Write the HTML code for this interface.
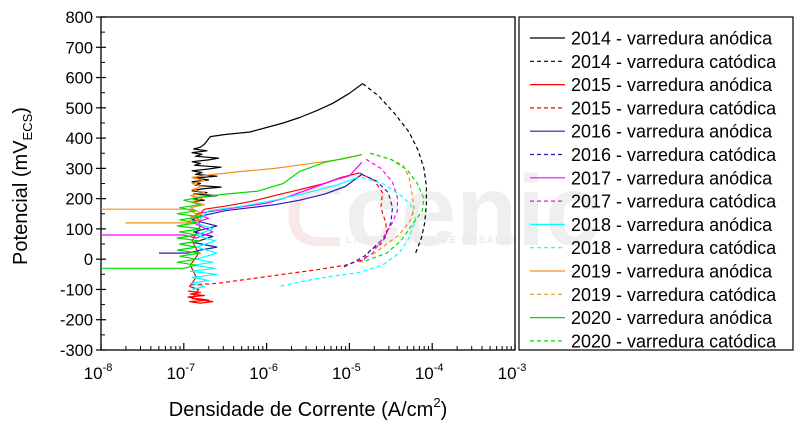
<!DOCTYPE html>
<html><head><meta charset="utf-8"><style>
body{margin:0;background:#fff;}
svg{display:block;font-family:"Liberation Sans",Arial,sans-serif;}
</style></head><body>
<svg id="chart" width="800" height="422" viewBox="0 0 800 422" xmlns="http://www.w3.org/2000/svg">
<g id="wm" opacity="0.09">
<text x="285" y="245" font-size="80" font-weight="bold" fill="#c00">ᑕ</text>
<text x="345" y="245" font-size="100" font-weight="bold" fill="#555">cenic</text>
<text x="346" y="243" font-size="10" font-weight="bold" fill="#333" letter-spacing="1.5">LABORATÓRIO DE ENSAIOS</text>
</g>
<g id="axes"></g>
<g id="series"></g>
<g id="legend"></g>
</svg>
<script>
const xDecades = [-8,-7,-6,-5,-4,-3];
const yTicks = [-300,-200,-100,0,100,200,300,400,500,600,700,800];
const seriesNames = ["2014 - varredura anódica","2014 - varredura catódica","2015 - varredura anódica","2015 - varredura catódica","2016 - varredura anódica","2016 - varredura catódica","2017 - varredura anódica","2017 - varredura catódica","2018 - varredura anódica","2018 - varredura catódica","2019 - varredura anódica","2019 - varredura catódica","2020 - varredura anódica","2020 - varredura catódica"];
const seriesColors = ["#000","#000","#f00","#f00","#1f1fb4","#1f1fb4","#f0f","#f0f","#0ff","#0ff","#f39020","#f39020","#0d0","#0d0"];
// data points [log10(i), E mV]
const a2014 = [[-6.9,190],[-6.75,195],[-6.9,200],[-6.8,205],[-6.6,210],[-6.88,215],[-6.72,220],[-6.9,226],[-6.78,232],[-6.55,238],[-6.86,244],[-6.8,250],[-6.9,256],[-6.7,262],[-6.88,268],[-6.6,274],[-6.86,280],[-6.78,286],[-6.9,292],[-6.7,298],[-6.55,304],[-6.87,310],[-6.8,316],[-6.9,322],[-6.7,328],[-6.58,334],[-6.86,340],[-6.78,346],[-6.9,352],[-6.72,358],[-6.88,364],[-6.8,370],[-6.75,380],[-6.68,405],[-6.5,412],[-6.2,420],[-6.0,435],[-5.8,450],[-5.6,468],[-5.4,490],[-5.2,515],[-5.0,548],[-4.84,580]];
const c2014 = [[-4.84,580],[-4.65,540],[-4.45,480],[-4.28,420],[-4.17,360],[-4.1,300],[-4.07,240],[-4.07,180],[-4.09,120],[-4.13,70],[-4.2,20]];
const a2015 = [[-6.95,-105],[-6.8,-110],[-6.92,-115],[-6.75,-120],[-6.95,-125],[-6.85,-130],[-6.7,-135],[-6.93,-140],[-6.8,-145],[-6.65,-140],[-6.9,-130],[-6.82,-100],[-6.93,-90],[-6.85,-60],[-6.92,-20],[-6.82,20],[-6.9,60],[-6.8,110],[-6.85,140],[-6.75,165],[-6.5,175],[-6.2,190],[-5.9,210],[-5.6,230],[-5.3,250],[-5.1,270],[-4.88,285]];
const c2015 = [[-4.88,285],[-4.7,260],[-4.6,220],[-4.62,170],[-4.56,120],[-4.55,80],[-4.62,50],[-4.75,30],[-4.82,0],[-5.05,-20],[-5.4,-35],[-5.8,-50],[-6.2,-65],[-6.6,-80],[-6.92,-85]];
const a2016 = [[-7.3,20],[-6.95,20],[-6.8,30],[-6.6,40],[-6.88,55],[-6.65,75],[-6.88,90],[-6.6,110],[-6.9,130],[-6.75,145],[-6.5,160],[-6.2,170],[-5.9,180],[-5.6,195],[-5.3,215],[-5.05,240],[-4.85,280]];
const c2016 = [[-4.85,280],[-4.68,260],[-4.53,220],[-4.48,170],[-4.5,120],[-4.58,70],[-4.7,40],[-4.82,10],[-4.95,-10],[-5.1,-30]];
const a2017 = [[-8,80],[-7.0,80],[-6.85,70],[-6.65,90],[-6.88,120],[-6.7,135],[-6.85,150],[-6.5,165],[-6.0,185],[-5.8,200],[-5.6,220],[-5.4,240],[-5.2,260],[-5.0,275],[-4.85,320]];
const c2017 = [[-4.8,330],[-4.62,300],[-4.48,255],[-4.42,205],[-4.42,160],[-4.5,110],[-4.62,60],[-4.72,20],[-4.88,-10]];
const a2018 = [[-6.9,-100],[-6.75,-90],[-6.92,-80],[-6.7,-70],[-6.9,-60],[-6.6,-50],[-6.92,-40],[-6.62,-30],[-6.88,-20],[-6.65,-10],[-6.85,0],[-6.6,20],[-6.85,40],[-6.62,60],[-6.85,80],[-6.65,100],[-6.85,120],[-6.7,160],[-6.3,175],[-5.9,195],[-5.5,220],[-5.15,245],[-4.9,270]];
const c2018 = [[-4.85,270],[-4.6,250],[-4.4,215],[-4.26,180],[-4.2,130],[-4.28,70],[-4.4,20],[-4.6,-20],[-4.9,-45],[-5.3,-60],[-5.6,-75],[-5.85,-90]];
const a2019 = [[-8,165],[-6.95,165],[-6.85,150],[-6.95,120],[-7.7,120],[-6.95,120],[-6.8,130],[-6.92,140],[-6.78,150],[-6.92,170],[-6.75,180],[-6.9,190],[-6.78,200],[-6.92,210],[-6.75,220],[-6.9,230],[-6.78,240],[-6.9,250],[-6.75,260],[-6.9,270],[-6.7,278],[-6.3,290],[-5.9,300],[-5.5,315],[-5.1,330],[-4.85,345]];
const c2019 = [[-4.75,350],[-4.5,330],[-4.35,310],[-4.28,270],[-4.24,210],[-4.22,170],[-4.26,130],[-4.4,80],[-4.55,50],[-4.75,10]];
const a2020 = [[-8,-30],[-7.0,-30],[-6.85,-20],[-7.08,-10],[-6.85,0],[-7.05,10],[-6.8,20],[-7.08,30],[-6.85,40],[-7.05,50],[-6.8,60],[-7.08,70],[-6.85,80],[-7.05,90],[-6.8,100],[-7.08,110],[-6.85,120],[-7.05,130],[-6.8,140],[-7.08,150],[-6.85,160],[-7.05,170],[-6.8,180],[-7.0,195],[-6.8,205],[-6.5,215],[-6.1,225],[-5.8,250],[-5.6,290],[-5.3,320],[-4.85,345]];
const c2020 = [[-4.75,350],[-4.5,330],[-4.3,295],[-4.18,250],[-4.1,200],[-4.12,160],[-4.25,110],[-4.38,60],[-4.55,20],[-4.85,-10]];
const seriesData = [a2014,c2014,a2015,c2015,a2016,c2016,a2017,c2017,a2018,c2018,a2019,c2019,a2020,c2020];

const X0=101, X1=515, Y0=350, Y1=17;
const xs = v => X0 + (v - (-8)) * (X1 - X0) / 5;
const ys = v => Y0 - (v - (-300)) * (Y0 - Y1) / 1100;
const NS="http://www.w3.org/2000/svg";
function mk(tag, attrs, parent){const e=document.createElementNS(NS,tag);for(const k in attrs)e.setAttribute(k,attrs[k]);parent.appendChild(e);return e;}
const axes=document.getElementById('axes');
const frame=mk('rect',{x:X0,y:Y1,width:X1-X0,height:Y0-Y1,fill:'none',stroke:'#000','stroke-width':1.3},axes);


xDecades.forEach((d,i)=>{
  const x=xs(d);
  const t=mk('line',{x1:x,x2:x,y1:Y0,y2:Y0-7,stroke:'#000','stroke-width':1.2},axes);
  
  
  if(i<xDecades.length-1){for(let m=2;m<10;m++){const xm=xs(d+Math.log10(m));const mt=mk('line',{x1:xm,x2:xm,y1:Y0,y2:Y0-4,stroke:'#000','stroke-width':1},axes);}}
  const lab=mk('text',{x:x-3,y:379,'font-size':17,'text-anchor':'middle',fill:'#000'},axes);
  
  
  lab.textContent='10';
  const sp=mk('tspan',{dy:-8,'font-size':11},lab);sp.textContent=String(d);
});
yTicks.forEach((v,i)=>{
  const y=ys(v);
  const t=mk('line',{x1:X0-5,x2:X0+5,y1:y,y2:y,stroke:'#000','stroke-width':1.2},axes);
  
  
  if(i<yTicks.length-1){const ym=ys(v+50);const mt=mk('line',{x1:X0,x2:X0+4,y1:ym,y2:ym,stroke:'#000','stroke-width':1},axes);}
  const lab=mk('text',{x:X0-8,y:y+6,'font-size':16.5,'text-anchor':'end',fill:'#000'},axes);
  
  
  lab.textContent=String(v);
});
const xt=mk('text',{x:308,y:416,'font-size':20,'text-anchor':'middle',fill:'#000'},axes);


xt.innerHTML='Densidade de Corrente (A/cm<tspan dy="-9" font-size="13">2</tspan><tspan dy="9">)</tspan>';
const yt=mk('text',{x:0,y:0,'font-size':20,'text-anchor':'middle',fill:'#000',transform:'translate(27,186) rotate(-90)'},axes);


yt.innerHTML='Potencial (mV<tspan dy="5" font-size="13">ECS</tspan><tspan dy="-5">)</tspan>';

const sg=document.getElementById('series');
seriesData.forEach((arr,i)=>{
  const p=mk('polyline',{points:arr.map(q=>xs(q[0]).toFixed(1)+','+ys(q[1]).toFixed(1)).join(' '),fill:'none',stroke:seriesColors[i],'stroke-width':1.2,'stroke-dasharray':i%2?'4,3':'none','stroke-linejoin':'round'},sg);
  
  
});
const lg=document.getElementById('legend');
const lb=mk('rect',{x:519,y:17,width:274,height:333,fill:'none',stroke:'#000','stroke-width':1.2},lg);


seriesNames.forEach((n,i)=>{
  const y=38+i*23.3;
  const g=mk('g',{},lg);
  
  
  mk('line',{x1:530,x2:565,y1:y,y2:y,stroke:seriesColors[i],'stroke-width':1.2,'stroke-dasharray':i%2?'4,3':'none'},g);
  const t=mk('text',{x:571,y:y+6.5,'font-size':18,fill:'#000'},g);
  t.textContent=n;
});
</script>
</body></html>
